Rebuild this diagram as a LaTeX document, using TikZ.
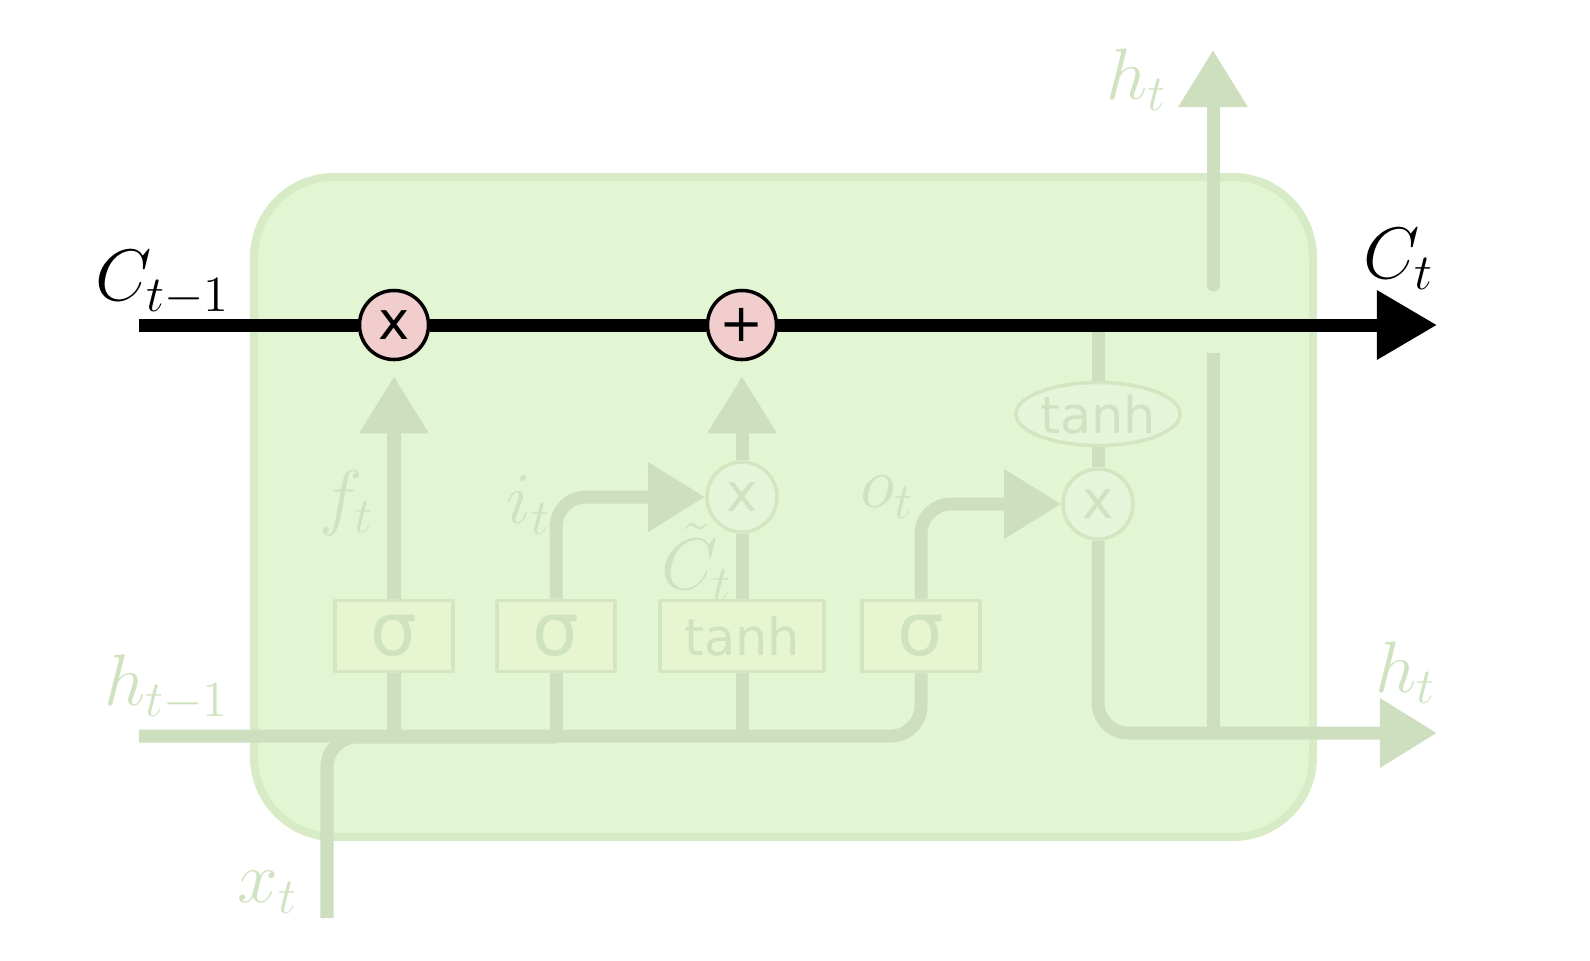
\documentclass[tikz,border=0pt]{standalone}
\usepackage{fontspec}
\newfontfamily\opfont{DejaVu Sans}
\usetikzlibrary{arrows.meta,shapes.geometric}
\definecolor{cellF}{HTML}{E3F6D3}
\definecolor{cellD}{HTML}{D7ECC6}
\definecolor{lineG}{HTML}{CDDFBE}
\definecolor{gateF}{HTML}{E7F5D0}
\definecolor{gateD}{HTML}{D3E5C1}
\definecolor{textG}{HTML}{D0E3C1}
\definecolor{opF}{HTML}{E6F5DA}
\definecolor{pinkF}{HTML}{F2CDCD}
\begin{document}
\begin{tikzpicture}[x=0.01cm, y=-0.01cm, line join=round, font=\fontsize{19.5}{22}\selectfont,
  fade/.style={draw=lineG, line width=0.13cm},
  fadetip/.style={-{Triangle[length=0.57cm,width=0.66cm]}},
  cstate/.style={draw=black, line width=0.13cm},
  gate/.style={draw=gateD, fill=gateF, line width=1pt, minimum width=1.18cm, minimum height=0.71cm,
    inner sep=0pt, text=textG, font=\opfont\fontsize{21}{21}\selectfont},
  fadeop/.style={circle, draw=gateD, fill=opF, line width=1pt, minimum size=0.7cm, inner sep=0pt,
    text=textG, font=\opfont\fontsize{15}{15}\selectfont},
  pinkop/.style={circle, draw=black, fill=pinkF, line width=1pt, minimum size=0.69cm, inner sep=0pt,
    font=\opfont\fontsize{15}{15}\selectfont},
  lbl/.style={text=textG, inner sep=0pt}]
\useasboundingbox (0,0) rectangle (1590,960);
% cell body
\draw[draw=cellD, fill=cellF, line width=0.08cm, rounded corners=0.8cm] (254,177) rectangle (1313,837);
% layers
\node[gate] (sgf) at (394,636) {σ};
\node[gate] (sgi) at (556,636) {σ};
\node[gate, minimum width=1.64cm, font=\opfont\fontsize{14.5}{16}\selectfont] (tnc) at (742,636) {tanh};
\node[gate] (sgo) at (921,636) {σ};
% pointwise ops
\node[fadeop] (mi) at (742,497) {x};
\node[fadeop] (mo) at (1098,504) {x};
\node[ellipse, draw=gateD, fill=opF, line width=1pt, minimum width=1.64cm, minimum height=0.63cm,
  inner sep=0pt, text=textG, font=\opfont\fontsize{14.5}{16}\selectfont] (tno) at (1098,414) {tanh};
\node[pinkop] (mf) at (394,325) {x};
\node[pinkop] (ad) at (742,325) {+};
% ends
\coordinate (cin) at (139,325);
\coordinate (cout) at (1437,325);
\coordinate (hin) at (139,736);
\coordinate (xin) at (327,918);
\coordinate (xjoin) at (556,737);
\coordinate (hout) at (1437,733);
\coordinate (hlow) at (1213,353);
\coordinate (hhigh) at (1213,285);
\coordinate (htop) at (1213,50);
% faded flow
\draw[fade, rounded corners=0.3cm] (hin) -| (sgo.south);
\draw[fade, rounded corners=0.3cm] (xin) |- (xjoin);
\foreach \g in {sgf,sgi,tnc} \draw[fade] (\g.south) -- (\g.south |- hin);
\draw[fade, fadetip, shorten >=0.15cm] (sgf) -- (mf);
\draw[fade, fadetip, rounded corners=0.3cm] (sgi) |- (mi);
\draw[fade] (tnc) -- (mi);
\draw[fade, fadetip, shorten >=0.15cm] (mi) -- (ad);
\draw[fade, fadetip, rounded corners=0.3cm] (sgo) |- (mo);
\draw[fade] (mo) -- (tno);
\draw[fade] (tno) -- (tno |- cin);
\draw[fade, fadetip, rounded corners=0.3cm] (mo) |- (hout);
\draw[fade] (hlow |- hout) -- (hlow);
\draw[fade, fadetip, line cap=round] (hhigh) -- (htop);
% cell state
\draw[cstate] (cin) -- (mf);
\draw[cstate] (mf) -- (ad);
\draw[cstate, -{Triangle[length=0.6cm,width=0.66cm]}] (ad) -- (cout);
% labels
\node[inner sep=0pt] (lcp) at (163,283) {$C_{t-1}$};
\node[inner sep=0pt] (lcn) at (1399,259) {$C_t$};
\node[lbl] (lhu) at (1137,80) {$h_t$};
\node[lbl] (lhr) at (1406,673) {$h_t$};
\node[lbl] (lhp) at (167,688) {$h_{t-1}$};
\node[lbl] (lx) at (268,892) {$x_t$};
\node[lbl] (lf) at (347,503) {$f_t$};
\node[lbl] (li) at (529,505) {$i_t$};
\node[lbl] (lct) at (697,562) {$\tilde{C}_t$};
\node[lbl] (lo) at (887,497) {$o_t$};
\end{tikzpicture}
\end{document}
